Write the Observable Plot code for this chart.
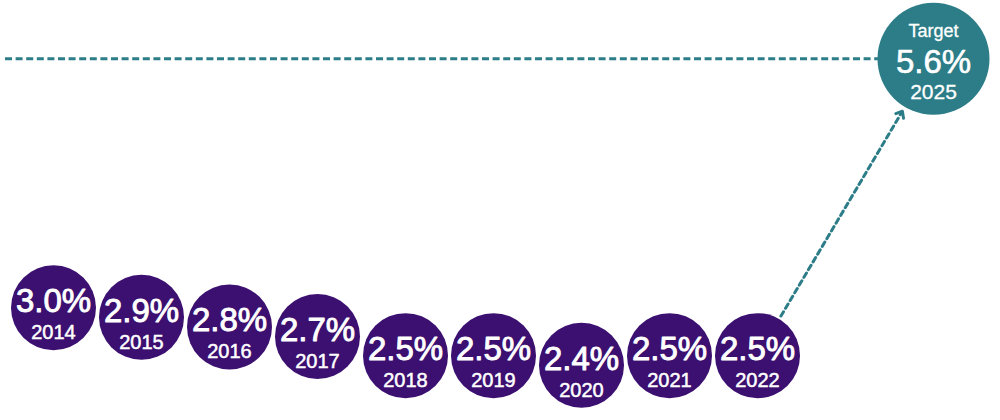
<!DOCTYPE html>
<html>
<head>
<meta charset="utf-8">
<script src="https://cdn.jsdelivr.net/npm/d3@7"></script>
<script src="https://cdn.jsdelivr.net/npm/@observablehq/plot@0.6"></script>
<style>
  html, body { margin: 0; padding: 0; background: #fff; }
  #chart { width: 1000px; height: 420px; }
</style>
</head>
<body>
<div id="chart"></div>
<script>
// Data
const years = ["2014", "2015", "2016", "2017", "2018", "2019", "2020", "2021", "2022"];
const values = [3.0, 2.9, 2.8, 2.7, 2.5, 2.5, 2.4, 2.5, 2.5];
const targetYear = "2025";
const targetValue = 5.6;
const targetLabel = "Target";
const gap = " ";

const history = years.map((y, i) => ({year: y, value: values[i]}));
const target = [{year: targetYear, value: targetValue}];
const lastPoint = history[history.length - 1];
const arrowData = [{x1: lastPoint.year, y1: lastPoint.value, x2: targetYear, y2: targetValue}];

const purple = "#3c1070";
const teal = "#2c7d88";
const font = "Liberation Sans, Arial, sans-serif";

const plot = Plot.plot({
  width: 1000,
  height: 420,
  marginLeft: 50,
  marginRight: 64,
  marginTop: 20,
  marginBottom: 17,
  style: {fontFamily: font, background: "#fff"},
  x: {type: "point", domain: [...years, gap, targetYear], padding: 0, axis: null},
  y: {domain: [2, 6], axis: null},
  marks: [
    // horizontal target dashed line
    Plot.ruleY([targetValue], {stroke: teal, strokeWidth: 3, strokeDasharray: "7,3.6", insetLeft: -45}),
    // dashed arrow shaft
    Plot.arrow(arrowData, {x1: "x1", y1: "y1", x2: "x2", y2: "y2", stroke: teal, strokeWidth: 3,
      strokeDasharray: "5,4", insetStart: 46, insetEnd: 64, headLength: 0}),
    // solid arrow head
    Plot.arrow(arrowData, {x1: "x1", y1: "y1", x2: "x2", y2: "y2", stroke: teal, strokeWidth: 3,
      insetStart: 282, insetEnd: 61, headLength: 3.5, headAngle: 80}),
    // history circles
    Plot.dot(history, {x: "year", y: "value", r: 42.5, fill: purple}),
    Plot.text(history, {x: "year", y: "value", text: d => d.value.toFixed(1) + "%", fill: "white",
      fontSize: 33, dy: -6, letterSpacing: "-0.6px", stroke: "white", strokeWidth: 0.9}),
    Plot.text(history, {x: "year", y: "value", text: "year", fill: "white", fontSize: 20, dy: 25,
      stroke: "white", strokeWidth: 0.5}),
    // target circle
    Plot.dot(target, {x: "year", y: "value", r: 56, fill: teal}),
    Plot.text(target, {x: "year", y: "value", text: () => targetLabel, fill: "white", fontSize: 18, dy: -28,
      stroke: "white", strokeWidth: 0.3}),
    Plot.text(target, {x: "year", y: "value", text: d => d.value.toFixed(1) + "%", fill: "white",
      fontSize: 33, dy: 4, stroke: "white", strokeWidth: 0.6}),
    Plot.text(target, {x: "year", y: "value", text: "year", fill: "white", fontSize: 21, dy: 33,
      stroke: "white", strokeWidth: 0.3})
  ]
});
document.getElementById("chart").appendChild(plot);
</script>
</body>
</html>
